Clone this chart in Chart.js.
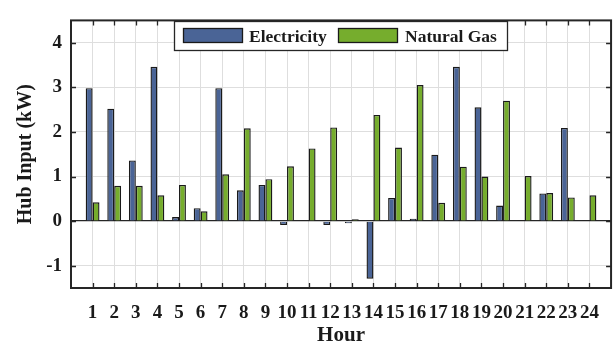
<!DOCTYPE html>
<html>
<head>
<meta charset="utf-8">
<script src="https://cdn.jsdelivr.net/npm/chart.js@4.4.1/dist/chart.umd.min.js"></script>
<style>
  html, body { margin: 0; padding: 0; background: #fff; }
  #hub { display: block; }
</style>
</head>
<body>
<canvas id="hub" width="613" height="342"></canvas>
<script>
// hourly hub input (kW)
const hours = [1, 2, 3, 4, 5, 6, 7, 8, 9, 10, 11, 12, 13, 14, 15, 16, 17, 18, 19, 20, 21, 22, 23, 24];
const electricity = [2.98, 2.52, 1.36, 3.46, 0.09, 0.29, 2.98, 0.69, 0.81, -0.09, 0.01, -0.09,
                     -0.05, -1.29, 0.52, 0.05, 1.49, 3.46, 2.55, 0.35, 0.01, 0.62, 2.09, 0.01];
const naturalGas = [0.42, 0.79, 0.79, 0.58, 0.81, 0.22, 1.05, 2.08, 0.94, 1.23, 1.63, 2.1,
                    0.04, 2.38, 1.65, 3.05, 0.41, 1.22, 1.0, 2.7, 1.01, 0.63, 0.53, 0.58];
const yTicks = [-1, 0, 1, 2, 3, 4];

const FONT = '"Liberation Serif", "Times New Roman", serif';
const INK = '#262626';

// box around the plot with inward tick marks on all four sides
const frame = {
    id: 'frame',
    afterDatasetsDraw(chart) {
        const { ctx, chartArea: a, scales } = chart;
        const len = 5;
        ctx.save();
        ctx.strokeStyle = INK;
        ctx.lineWidth = 1.3;
        ctx.beginPath();
        hours.forEach(h => {
            const x = Math.round(scales.x.getPixelForValue(h)) + 0.5;
            ctx.moveTo(x, a.top); ctx.lineTo(x, a.top + len);
            ctx.moveTo(x, a.bottom); ctx.lineTo(x, a.bottom - len);
        });
        yTicks.forEach(v => {
            const y = Math.round(scales.y.getPixelForValue(v)) + 0.5;
            ctx.moveTo(a.left, y); ctx.lineTo(a.left + len, y);
            ctx.moveTo(a.right, y); ctx.lineTo(a.right - len, y);
        });
        ctx.stroke();
        ctx.lineWidth = 2;
        ctx.strokeRect(a.left, a.top, a.right - a.left, a.bottom - a.top);
        ctx.restore();
    },
    afterDraw(chart) {
        // boxed legend inside the plot
        const { ctx } = chart;
        const box = { x: 174.5, y: 21.5, w: 333, h: 29 };
        const items = [
            { sx: 183, tx: 249 },
            { sx: 338, tx: 405 }
        ];
        ctx.save();
        ctx.fillStyle = '#fff';
        ctx.fillRect(box.x, box.y, box.w, box.h);
        ctx.strokeStyle = INK;
        ctx.lineWidth = 1.3;
        ctx.strokeRect(box.x, box.y, box.w, box.h);
        ctx.font = 'bold 17.5px ' + FONT;
        ctx.textBaseline = 'middle';
        chart.data.datasets.forEach((ds, i) => {
            const it = items[i];
            ctx.fillStyle = ds.backgroundColor;
            ctx.fillRect(it.sx, 28, 60, 15);
            ctx.lineWidth = 1.3;
            ctx.strokeStyle = '#1a1a1a';
            ctx.strokeRect(it.sx + 0.5, 28.5, 59, 14);
            ctx.fillStyle = '#1a1a1a';
            ctx.fillText(ds.label, it.tx, 37);
        });
        ctx.restore();
    }
};

new Chart(document.getElementById('hub'), {
    type: 'bar',
    data: {
        datasets: [
            {
                label: 'Electricity',
                data: hours.map((h, i) => ({ x: h, y: electricity[i] })),
                backgroundColor: '#4a6496',
                borderColor: '#1a1a1a',
                borderWidth: 1.4,
                categoryPercentage: 0.64,
                barPercentage: 1.0
            },
            {
                label: 'Natural Gas',
                data: hours.map((h, i) => ({ x: h, y: naturalGas[i] })),
                backgroundColor: '#76ad2d',
                borderColor: '#1a1a1a',
                borderWidth: 1.4,
                categoryPercentage: 0.64,
                barPercentage: 1.0
            }
        ]
    },
    options: {
        responsive: false,
        animation: false,
        devicePixelRatio: 1,
        layout: { padding: { top: 12, right: 1, left: 0, bottom: 0 } },
        plugins: {
            legend: { display: false },
            tooltip: { enabled: false }
        },
        scales: {
            x: {
                type: 'linear',
                offset: false,
                min: 0,
                max: 25,
                afterBuildTicks: s => { s.ticks = hours.map(h => ({ value: h })); },
                afterFit: s => { s.height = 54; },
                ticks: {
                    stepSize: 1,
                    autoSkip: false,
                    maxRotation: 0,
                    padding: 14,
                    color: '#1a1a1a',
                    font: { family: FONT, size: 19, weight: 'bold' }
                },
                grid: { color: '#dedede', lineWidth: 1, drawTicks: false, offset: false },
                border: { display: false },
                title: {
                    display: true,
                    text: 'Hour',
                    color: '#1a1a1a',
                    padding: { top: 0, bottom: 0 },
                    font: { family: FONT, size: 21, weight: 'bold', lineHeight: 0.62 }
                }
            },
            y: {
                min: -1.5,
                max: 4.5,
                afterBuildTicks: s => { s.ticks = yTicks.map(v => ({ value: v })); },
                afterFit: s => { s.width = 71; },
                ticks: {
                    padding: 9,
                    color: '#1a1a1a',
                    font: { family: FONT, size: 19, weight: 'bold' }
                },
                grid: {
                    color: c => (c.tick && c.tick.value === 0) ? '#262626' : '#dedede',
                    lineWidth: c => (c.tick && c.tick.value === 0) ? 1.3 : 1,
                    drawTicks: false
                },
                border: { display: false },
                title: {
                    display: true,
                    text: 'Hub Input (kW)',
                    color: '#1a1a1a',
                    padding: { top: 14, bottom: 0 },
                    font: { family: FONT, size: 20, weight: 'bold' }
                }
            }
        }
    },
    plugins: [frame]
});
</script>
</body>
</html>
